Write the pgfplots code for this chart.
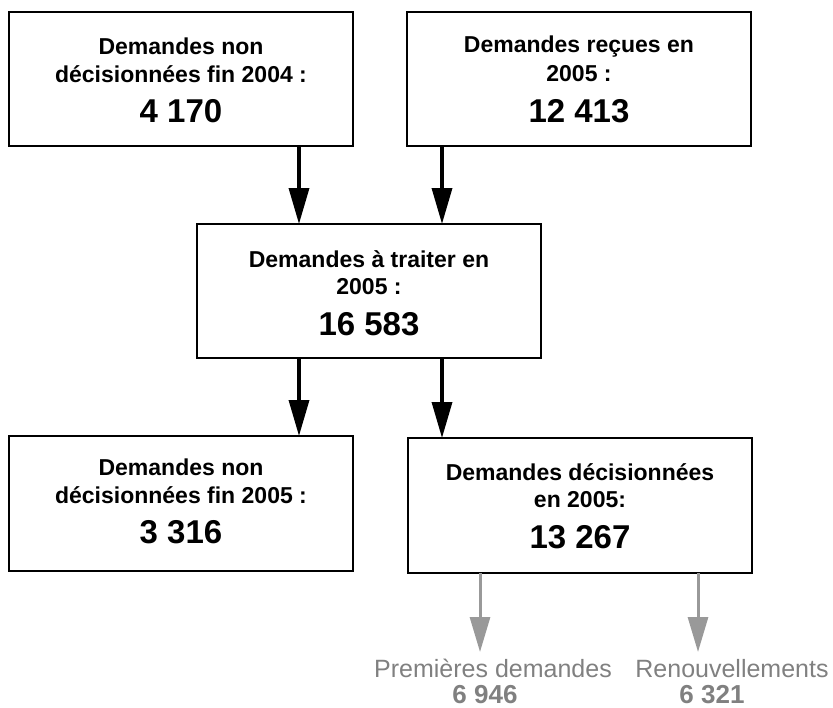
\documentclass[border=0pt]{standalone}
\usepackage{fontspec}
\setmainfont{Liberation Sans}
\usepackage{pgfplots}
\pgfplotsset{compat=1.18}
\usetikzlibrary{arrows.meta}
\definecolor{flowgray}{HTML}{999999}
\definecolor{textgray}{HTML}{808080}
\newcommand{\lbl}{\fontsize{23bp}{28bp}\selectfont\bfseries}
\newcommand{\num}{\fontsize{33bp}{38bp}\selectfont\bfseries}

\begin{document}
\begin{tikzpicture}
\begin{axis}[x=1bp, y=1bp, y dir=reverse, xmin=0, xmax=833, ymin=0, ymax=708,
  hide axis, clip=false, scale only axis]
  \path (axis cs:0,0) rectangle (axis cs:833,708);
  % boxes
  \addplot[black, line width=2bp, mark=none] coordinates {(9,12)(353,12)(353,146)(9,146)} --cycle;
  \addplot[black, line width=2bp, mark=none] coordinates {(407,12)(751,12)(751,146)(407,146)} --cycle;
  \addplot[black, line width=2bp, mark=none] coordinates {(197,224)(541,224)(541,358)(197,358)} --cycle;
  \addplot[black, line width=2bp, mark=none] coordinates {(9,436)(353,436)(353,571)(9,571)} --cycle;
  \addplot[black, line width=2bp, mark=none] coordinates {(408,438)(752,438)(752,573)(408,573)} --cycle;
  % black arrows
  \addplot[black, line width=3.5bp, mark=none, -{Triangle[width=20bp,length=36bp]}] coordinates {(299,146)(299,224)};
  \addplot[black, line width=3.5bp, mark=none, -{Triangle[width=20bp,length=36bp]}] coordinates {(442,146)(442,224)};
  \addplot[black, line width=3.5bp, mark=none, -{Triangle[width=20bp,length=36bp]}] coordinates {(299,358)(299,436)};
  \addplot[black, line width=3.5bp, mark=none, -{Triangle[width=20bp,length=36bp]}] coordinates {(442,358)(442,438)};
  % grey arrows
  \addplot[flowgray, line width=3bp, mark=none, -{Triangle[width=20bp,length=35bp]}] coordinates {(480,573)(480,652)};
  \addplot[flowgray, line width=3bp, mark=none, -{Triangle[width=20bp,length=35bp]}] coordinates {(698,573)(698,652)};
  % texts
  \begin{scope}[every node/.style={anchor=base, inner sep=0pt}]
  \node[font=\lbl] at (axis cs:181,55) {Demandes non};
  \node[font=\lbl] at (axis cs:181,83) {décisionnées fin 2004 :};
  \node[font=\num] at (axis cs:181,123) {4 170};
  \node[font=\lbl] at (axis cs:579,53) {Demandes reçues en};
  \node[font=\lbl] at (axis cs:579,82) {2005 :};
  \node[font=\num] at (axis cs:579,123) {12 413};
  \node[font=\lbl] at (axis cs:369,267) {Demandes à traiter en};
  \node[font=\lbl] at (axis cs:369,294) {2005 :};
  \node[font=\num] at (axis cs:369,335) {16 583};
  \node[font=\lbl] at (axis cs:181,475) {Demandes non};
  \node[font=\lbl] at (axis cs:181,503) {décisionnées fin 2005 :};
  \node[font=\num] at (axis cs:181,543) {3 316};
  \node[font=\lbl] at (axis cs:580,480) {Demandes décisionnées};
  \node[font=\lbl] at (axis cs:580,507) {en 2005:};
  \node[font=\num] at (axis cs:580,548) {13 267};
  \node[text=textgray, font=\fontsize{25bp}{30bp}\selectfont] at (axis cs:493,677) {Premières demandes};
  \node[text=textgray, font=\fontsize{25bp}{30bp}\selectfont] at (axis cs:732,677) {Renouvellements};
  \node[text=textgray, font=\fontsize{26bp}{30bp}\selectfont\bfseries] at (axis cs:485,703) {6 946};
  \node[text=textgray, font=\fontsize{26bp}{30bp}\selectfont\bfseries] at (axis cs:712,703) {6 321};
  \end{scope}
\end{axis}
\end{tikzpicture}
\end{document}
